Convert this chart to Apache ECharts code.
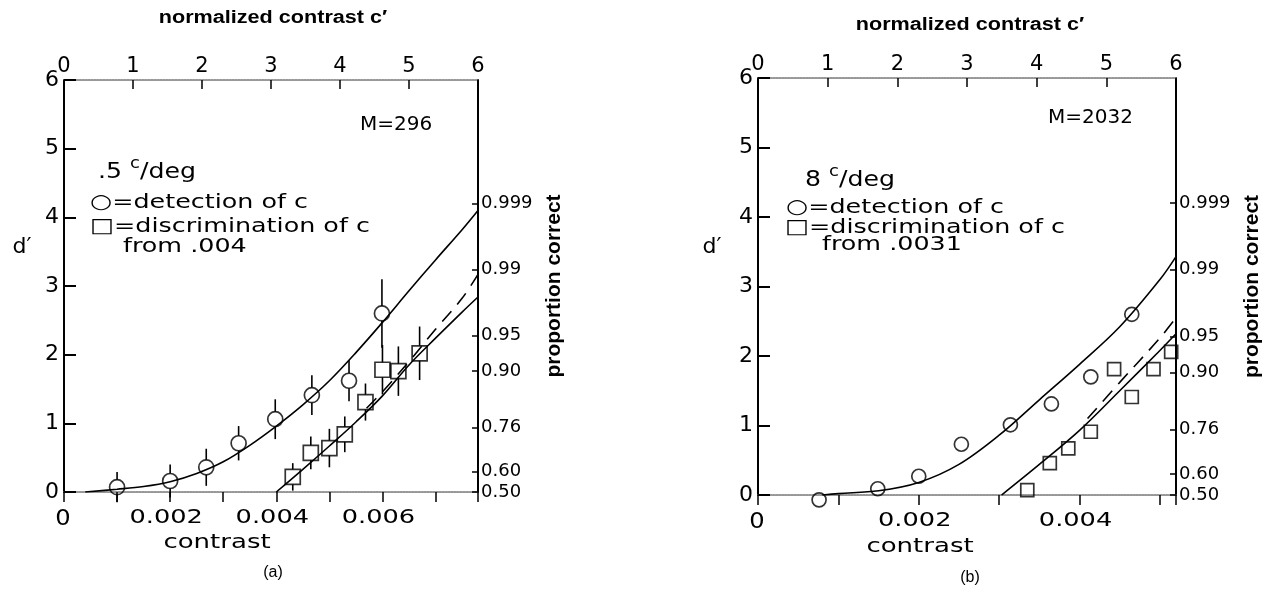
<!DOCTYPE html>
<html>
<head>
<meta charset="utf-8">
<script src="https://cdn.jsdelivr.net/npm/echarts@6/dist/echarts.min.js"></script>
<style>
html,body{margin:0;padding:0;background:#fff;}
#chart{width:1267px;height:592px;}
</style>
</head>
<body>
<div id="chart"></div>
<script>
// ---------- data ----------
// panel (a): 0.5 c/deg, M = 296
const detA_c   = [0.001, 0.002, 0.00268, 0.00329, 0.00398, 0.00467, 0.00537, 0.00599];
const detA_d   = [0.07, 0.16, 0.36, 0.71, 1.06, 1.41, 1.62, 2.6];
const detA_err = [0.22, 0.24, 0.27, 0.25, 0.29, 0.29, 0.3, 0.5];
const disA_c   = [0.00431, 0.00465, 0.005, 0.00529, 0.00568, 0.006, 0.0063, 0.0067];
const disA_d   = [0.22, 0.57, 0.64, 0.84, 1.31, 1.78, 1.76, 2.02];
const disA_err = [0.2, 0.24, 0.28, 0.26, 0.27, 0.36, 0.36, 0.39];
const detFitA_c = [0.0004, 0.001, 0.0015, 0.002, 0.0025, 0.003, 0.0035, 0.004, 0.0045, 0.005, 0.0055, 0.006, 0.0065, 0.007, 0.0075, 0.0078];
const detFitA_d = [0, 0.04, 0.08, 0.15, 0.27, 0.44, 0.68, 0.96, 1.27, 1.62, 2.03, 2.47, 2.93, 3.38, 3.82, 4.1];
const disFitA_c = [0.004, 0.0045, 0.005, 0.0055, 0.006, 0.0065, 0.007, 0.0075, 0.0078];
const disFitA_d = [0, 0.33, 0.67, 1.02, 1.4, 1.85, 2.24, 2.62, 2.84];
const dashA_c   = [0.0057, 0.006, 0.0065, 0.007, 0.0075, 0.0078];
const dashA_d   = [1.22, 1.46, 1.9, 2.37, 2.82, 3.17];

// panel (b): 8 c/deg, M = 2032
const detB_c = [0.00076, 0.00149, 0.002, 0.00253, 0.00314, 0.00365, 0.00414, 0.00465];
const detB_d = [-0.07, 0.09, 0.27, 0.73, 1.01, 1.31, 1.7, 2.6];
const disB_c = [0.00335, 0.00363, 0.00386, 0.00414, 0.00443, 0.00465, 0.00492, 0.00514];
const disB_d = [0.07, 0.46, 0.67, 0.91, 1.81, 1.41, 1.81, 2.06];
const detFitB_c = [0.0008, 0.001, 0.0015, 0.002, 0.0025, 0.003, 0.0035, 0.004, 0.0045, 0.005, 0.0052];
const detFitB_d = [0, 0.02, 0.06, 0.18, 0.44, 0.86, 1.37, 1.88, 2.42, 3.1, 3.43];
const disFitB_c = [0.00303, 0.0035, 0.004, 0.0045, 0.005, 0.0052];
const disFitB_d = [0, 0.44, 0.93, 1.5, 2.08, 2.32];
const dashB_c   = [0.0041, 0.0045, 0.005, 0.0052];
const dashB_d   = [1.1, 1.62, 2.26, 2.55];

// tick labels
const propLabels = ['0.50', '0.60', '0.76', '0.90', '0.95', '0.99', '0.999'];
const propPos    = [0, 0.3, 0.94, 1.76, 2.28, 3.24, 4.2];
const contrastLabelsA = [0, 0.002, 0.004, 0.006];
const contrastLabelsB = [0, 0.002, 0.004];
const normTicks = [0, 1, 2, 3, 4, 5, 6];

// ---------- helpers ----------
const zip = (a, b) => a.map((v, i) => [v, b[i]]);
const zip3 = (a, b, c) => a.map((v, i) => [v, b[i], c[i]]);
const FONT = 'DejaVu Sans';
const BOLD = 'Liberation Sans';

function errRender(params, api) {
  const x = api.value(0), y = api.value(1), e = api.value(2);
  const p = api.coord([x, y]);
  const t = api.coord([x, y + e]);
  const b = api.coord([x, y - e]);
  const r = 7.5;
  const st = {stroke: '#000', lineWidth: 1.6};
  return {type: 'group', children: [
    {type: 'line', shape: {x1: p[0], y1: t[1], x2: p[0], y2: p[1] - r}, style: st},
    {type: 'line', shape: {x1: p[0], y1: p[1] + r, x2: p[0], y2: b[1]}, style: st}
  ]};
}

function contrastFmt(v) { return v === 0 ? '0' : v.toFixed(3); }
function propFmt(v) {
  for (let i = 0; i < propPos.length; i++) if (Math.abs(propPos[i] - v) < 1e-6) return propLabels[i];
  return '';
}

const grayLine = {show: true, onZero: false, lineStyle: {color: '#777', width: 1.6, type: [2, 1]}};
const blackLine = {show: true, onZero: false, lineStyle: {color: '#000', width: 2}};

function xBottom(gi, max) {
  return {
    type: 'value', gridIndex: gi, position: 'bottom', min: 0, max: max, interval: 0.001,
    axisLine: grayLine,
    axisTick: {show: true, inside: false, length: 10, lineStyle: {color: '#000', width: 1.5}},
    axisLabel: {show: false},   // drawn below as widened text at the axis' own tick positions
    splitLine: {show: false}
  };
}
function xTop(gi) {
  return {
    type: 'value', gridIndex: gi, position: 'top', min: 0, max: 6, interval: 1,
    axisLine: grayLine,
    axisTick: {show: true, inside: true, length: 9, lineStyle: {color: '#000', width: 1.5}},
    axisLabel: {customValues: normTicks, fontFamily: FONT, fontSize: 21, color: '#000', margin: 3},
    splitLine: {show: false}
  };
}
function yLeft(gi) {
  return {
    type: 'value', gridIndex: gi, position: 'left', min: 0, max: 6, interval: 1,
    axisLine: blackLine,
    axisTick: {show: true, inside: true, length: 12, lineStyle: {color: '#000', width: 2}},
    axisLabel: {fontFamily: FONT, fontSize: 22, color: '#000', margin: 5},
    splitLine: {show: false}
  };
}
function yRight(gi) {
  return {
    type: 'value', gridIndex: gi, position: 'right', min: 0, max: 6,
    axisLine: blackLine,
    axisTick: {show: true, inside: true, length: 6, customValues: propPos, lineStyle: {color: '#000', width: 1.5}},
    axisLabel: {customValues: propPos, formatter: propFmt, fontFamily: FONT, fontSize: 18, color: '#000', margin: 3},
    splitLine: {show: false},
    name: 'proportion correct', nameLocation: 'middle', nameRotate: 90, nameGap: 66,
    nameTextStyle: {fontFamily: BOLD, fontWeight: 'bold', fontSize: 21, color: '#000'}
  };
}

function curve(xi, yi, data, dashed) {
  return {type: 'line', xAxisIndex: xi, yAxisIndex: yi, data: data, showSymbol: false, symbol: 'none',
    smooth: 0.35, lineStyle: {color: '#000', width: 1.6, type: dashed ? [14, 9] : 'solid'}, z: 2, silent: true};
}
function marks(xi, yi, data, sym, size) {
  return {type: 'scatter', xAxisIndex: xi, yAxisIndex: yi, data: data, symbol: sym, symbolSize: size, clip: false,
    itemStyle: {color: 'rgba(0,0,0,0)', borderColor: '#000', borderWidth: 1.7}, z: 4, silent: true};
}
function bars(xi, yi, data) {
  return {type: 'custom', xAxisIndex: xi, yAxisIndex: yi, data: data, renderItem: errRender,
    encode: {x: 0, y: 1}, z: 3, silent: true, clip: false};
}
function txt(x, y, text, size, opts, sx) {
  return {type: 'text', x: x, y: y, scaleX: sx || 1, style: Object.assign({text: text, fontFamily: FONT, fontSize: size, fill: '#000',
    textVerticalAlign: 'middle'}, opts || {})};
}
function cdeg(x, y, lead, sx) {
  return {type: 'text', x: x, y: y, scaleX: sx || 1, style: {
    text: '{a|' + lead + ' }{s|c}{a|/deg}', fontFamily: FONT, fill: '#000', textVerticalAlign: 'middle',
    rich: {a: {fontFamily: FONT, fontSize: 21, lineHeight: 26, verticalAlign: 'bottom'},
           s: {fontFamily: FONT, fontSize: 15, lineHeight: 26, verticalAlign: 'top'}}}};
}

const LEG = 1.27;  // the reference lettering is much wider than DejaVu Sans
const baseGraphic = [
  txt(273, 18, 'normalized contrast c′', 18, {fontFamily: BOLD, fontWeight: 'bold', textAlign: 'center'}, 1.2),
  txt(970, 25, 'normalized contrast c′', 18, {fontFamily: BOLD, fontWeight: 'bold', textAlign: 'center'}, 1.2),
  txt(360, 125, 'M=296', 20),
  txt(1048, 118, 'M=2032', 20),
  cdeg(98, 170, '.5', 1.2),
  cdeg(805, 178, '8', 1.2),
  txt(90, 203, '○=detection of c', 20, null, LEG),
  txt(90, 227, '□=discrimination of c', 20, null, LEG),
  txt(123, 247, 'from .004', 20, null, LEG),
  txt(786, 208, '○=detection of c', 20, null, LEG),
  txt(785, 228, '□=discrimination of c', 20, null, LEG),
  txt(822, 245, 'from .0031', 20, null, LEG),
  txt(22, 247, 'd′', 22, {textAlign: 'center'}),
  txt(712, 247, 'd′', 22, {textAlign: 'center'}),
  txt(217, 543, 'contrast', 20, {textAlign: 'center'}, 1.3),
  txt(920, 547, 'contrast', 20, {textAlign: 'center'}, 1.3),
  txt(273, 573, '(a)', 16, {fontFamily: BOLD, textAlign: 'center'}),
  txt(970, 578, '(b)', 16, {fontFamily: BOLD, textAlign: 'center'})
];

const option = {
  backgroundColor: '#fff',
  animation: false,
  grid: [
    {left: 64, top: 80, width: 414, height: 412},
    {left: 758, top: 78, width: 418, height: 417}
  ],
  xAxis: [xBottom(0, 0.0078), xTop(0), xBottom(1, 0.0052), xTop(1)],
  yAxis: [yLeft(0), yRight(0), yLeft(1), yRight(1)],
  series: [
    curve(0, 0, zip(detFitA_c, detFitA_d), false),
    curve(0, 0, zip(disFitA_c, disFitA_d), false),
    curve(0, 0, zip(dashA_c, dashA_d), true),
    bars(0, 0, zip3(detA_c, detA_d, detA_err)),
    bars(0, 0, zip3(disA_c, disA_d, disA_err)),
    marks(0, 0, zip(detA_c, detA_d), 'circle', 15),
    marks(0, 0, zip(disA_c, disA_d), 'rect', 15),

    curve(2, 2, zip(detFitB_c, detFitB_d), false),
    curve(2, 2, zip(disFitB_c, disFitB_d), false),
    curve(2, 2, zip(dashB_c, dashB_d), true),
    marks(2, 2, zip(detB_c, detB_d), 'circle', 14),
    marks(2, 2, zip(disB_c, disB_d), 'rect', 13)
  ],
  graphic: baseGraphic
};

const chart = echarts.init(document.getElementById('chart'), null, {renderer: 'canvas'});
chart.setOption(option);

// contrast tick labels, placed with the axes' own scales
function contrastLabels(xAxisIndex, yAxisIndex, values) {
  const y0 = chart.convertToPixel({yAxisIndex: yAxisIndex}, 0);
  return values.map(v => {
    const px = chart.convertToPixel({xAxisIndex: xAxisIndex}, v);
    return v === 0
      ? txt(px - 1, y0 + 27, contrastFmt(v), 22, {textAlign: 'center'}, 1.1)
      : txt(px - 4, y0 + 26, contrastFmt(v), 19, {textAlign: 'center'}, 1.35);
  });
}
chart.setOption({graphic: baseGraphic
  .concat(contrastLabels(0, 0, contrastLabelsA))
  .concat(contrastLabels(2, 2, contrastLabelsB))});
</script>
</body>
</html>
